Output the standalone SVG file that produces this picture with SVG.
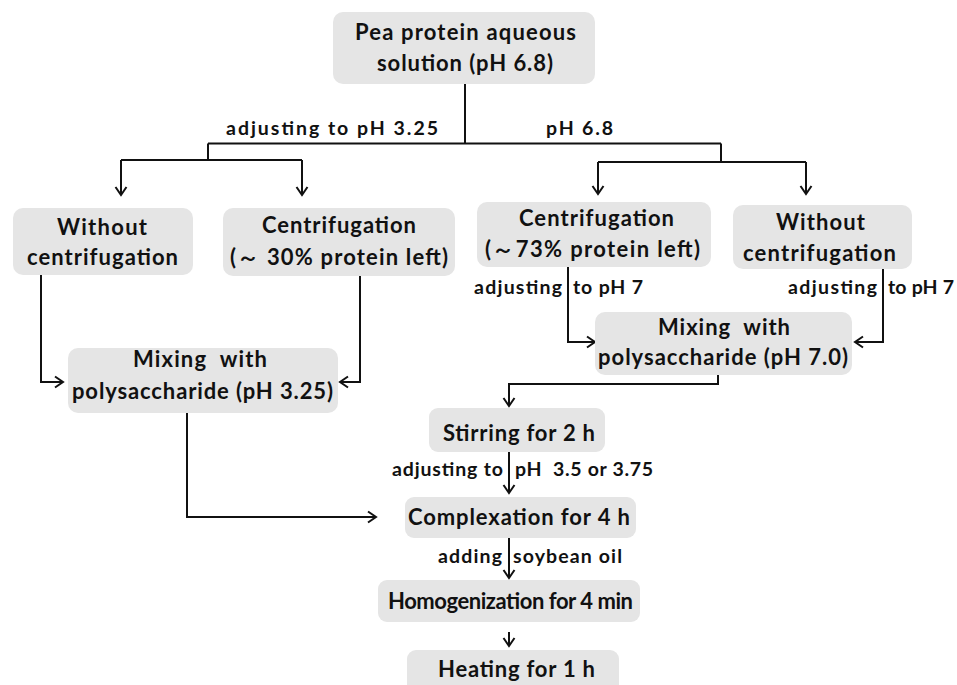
<svg xmlns="http://www.w3.org/2000/svg" width="957" height="685" viewBox="0 0 957 685">
<style>
.box{fill:#e5e5e5;}
.t{font-family:Lato,"Liberation Sans",sans-serif;font-weight:bold;font-size:22px;fill:#111;text-anchor:middle;}
.l{font-family:Lato,"Liberation Sans",sans-serif;font-weight:bold;font-size:19.5px;fill:#111;}
.c{fill:none;stroke:#111;stroke-width:2;}
</style>
<defs>
<marker id="ah" viewBox="-10 -7 12 14" refX="0" refY="0" markerWidth="12" markerHeight="14" markerUnits="userSpaceOnUse" orient="auto">
<path d="M-8,-5.5 L0,0 L-8,5.5" fill="none" stroke="#111" stroke-width="2"/>
</marker>
</defs>
<rect width="957" height="685" fill="#fff"/>
<g id="connectors">
<path class="c" d="M465,84 V143.5 M208,143.5 H721"/>
<path class="c" d="M208,143.5 V160 M121,160 H302"/>
<path class="c" d="M121,160 V195" marker-end="url(#ah)"/>
<path class="c" d="M302,160 V195" marker-end="url(#ah)"/>
<path class="c" d="M721,143.5 V162 M598,162 H806"/>
<path class="c" d="M598,162 V194" marker-end="url(#ah)"/>
<path class="c" d="M806,162 V194" marker-end="url(#ah)"/>
<path class="c" d="M41,275 V382 H63" marker-end="url(#ah)"/>
<path class="c" d="M360,276 V382 H340" marker-end="url(#ah)"/>
<path class="c" d="M568,267 V342 H595" marker-end="url(#ah)"/>
<path class="c" d="M883,269 V342 H855" marker-end="url(#ah)"/>
<path class="c" d="M718,375 V384 H509 V406" marker-end="url(#ah)"/>
<path class="c" d="M509,452 V493" marker-end="url(#ah)"/>
<path class="c" d="M187,413 V517 H376" marker-end="url(#ah)"/>
<path class="c" d="M509,538 V578" marker-end="url(#ah)"/>
<path class="c" d="M509,632 V646" marker-end="url(#ah)"/>
<text class="l" x="226" y="135" textLength="212">adjusting to pH 3.25</text>
<text class="l" x="546" y="135" textLength="67">pH 6.8</text>
<text class="l" x="474" y="294" textLength="88">adjusting</text>
<text class="l" x="573" y="294" textLength="70">to pH 7</text>
<text class="l" x="788" y="294" textLength="89">adjusting</text>
<text class="l" x="888" y="294" textLength="66">to pH 7</text>
<text class="l" x="392" y="476" textLength="111">adjusting to</text>
<text class="l" x="515" y="476" textLength="138" xml:space="preserve">pH  3.5 or 3.75</text>
<text class="l" x="438" y="563" textLength="64">adding</text>
<text class="l" x="513" y="563" textLength="109">soybean oil</text>
</g>
<g id="n-top"><rect class="box" x="333" y="12" width="262" height="72" rx="10"/>
<text class="t" x="465.5" y="40" textLength="221">Pea protein aqueous</text><text class="t" x="465" y="71" textLength="176">solution (pH 6.8)</text></g>
<g id="n-wo-left"><rect class="box" x="13" y="208" width="180" height="67" rx="10"/>
<text class="t" x="102" y="235" textLength="90">Without</text><text class="t" x="102.5" y="265" textLength="151">centrifugation</text></g>
<g id="n-cf-left"><rect class="box" x="223" y="208" width="232" height="68" rx="10"/>
<text class="t" x="339" y="233" textLength="154">Centrifugation</text><text class="t" x="339" y="265" textLength="218" xml:space="preserve">(～ 30% protein left)</text></g>
<g id="n-cf-right"><rect class="box" x="477" y="202" width="234" height="65" rx="10"/>
<text class="t" x="596.5" y="226" textLength="155">Centrifugation</text><text class="t" x="592.5" y="257" textLength="215">(～73% protein left)</text></g>
<g id="n-wo-right"><rect class="box" x="733" y="205" width="179" height="64" rx="10"/>
<text class="t" x="820.5" y="230" textLength="89">Without</text><text class="t" x="819.5" y="261" textLength="153">centrifugation</text></g>
<g id="n-mix-left"><rect class="box" x="68" y="348" width="270" height="65" rx="10"/>
<text class="t" x="200" y="367" textLength="134" xml:space="preserve">Mixing  with</text><text class="t" x="202.5" y="399" textLength="261">polysaccharide (pH 3.25)</text></g>
<g id="n-mix-right"><rect class="box" x="595" y="312" width="257" height="63" rx="10"/>
<text class="t" x="724" y="335" textLength="132" xml:space="preserve">Mixing  with</text><text class="t" x="723" y="365" textLength="250">polysaccharide (pH 7.0)</text></g>
<g id="n-stir"><rect class="box" x="429" y="408" width="176" height="44" rx="9"/>
<text class="t" x="519" y="441" textLength="152">Stirring for 2 h</text></g>
<g id="n-complex"><rect class="box" x="405" y="497" width="231" height="41" rx="9"/>
<text class="t" x="519" y="525" textLength="222">Complexation for 4 h</text></g>
<g id="n-homog"><rect class="box" x="378" y="580" width="262" height="42" rx="9"/>
<text class="t" x="510.5" y="609" textLength="245">Homogenization for 4 min</text></g>
<g id="n-heat"><rect class="box" x="407" y="650" width="212" height="50" rx="9"/>
<text class="t" x="516.5" y="677" textLength="157">Heating for 1 h</text></g>
</svg>
